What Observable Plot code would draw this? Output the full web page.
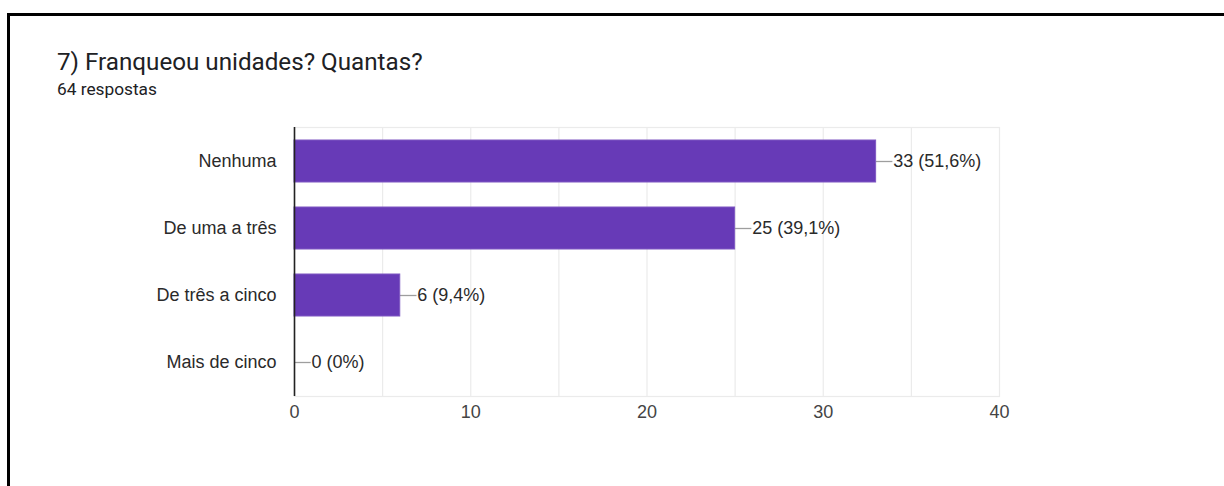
<!DOCTYPE html>
<html>
<head>
<meta charset="utf-8">
<script src="https://cdn.jsdelivr.net/npm/d3@7"></script>
<script src="https://cdn.jsdelivr.net/npm/@observablehq/plot@0.6"></script>
<style>
  html, body { margin: 0; padding: 0; background: #fff; }
  #wrap { position: relative; width: 1224px; height: 486px; overflow: hidden; background: #fff; }
  #wrap svg { position: absolute; left: 0; top: 0; }
  .bt { position: absolute; left: 7px; top: 13px; width: 1217px; height: 3px; background: #000; }
  .bl { position: absolute; left: 7px; top: 13px; width: 3px; height: 473px; background: #000; }
  #title { position: absolute; left: 57px; top: 50px; font-family: Roboto, sans-serif; font-size: 24.2px; line-height: 24px; color: #202124; white-space: nowrap; }
  #subtitle { position: absolute; left: 57px; top: 81px; font-family: Roboto, sans-serif; font-size: 17.3px; line-height: 17px; color: #202124; white-space: nowrap; }
</style>
</head>
<body>
<div id="wrap">
  <div class="bt"></div>
  <div class="bl"></div>
  <div id="title">7) Franqueou unidades? Quantas?</div>
  <div id="subtitle">64 respostas</div>
</div>
<script>
const categories = ["Nenhuma", "De uma a três", "De três a cinco", "Mais de cinco"];
const counts = [33, 25, 6, 0];
const percents = ["51,6%", "39,1%", "9,4%", "0%"];
const xTicks = [0, 10, 20, 30, 40];
const gridTicks = [5, 10, 15, 20, 25, 30, 35];

const data = categories.map((c, i) => ({category: c, value: counts[i], pct: percents[i]}));

const chart = Plot.plot({
  width: 1224,
  height: 486,
  marginLeft: 294,
  marginRight: 225,
  marginTop: 127,
  marginBottom: 90,
  style: {fontFamily: "'Liberation Sans', Arial, sans-serif", fontSize: "18px", background: "transparent", overflow: "visible"},
  x: {domain: [0, 40], ticks: xTicks, tickSize: 0, tickPadding: 9, label: null},
  y: {domain: categories, paddingInner: 0.38, paddingOuter: 0.19, tickSize: 0, tickPadding: 18, label: null},
  marks: [
    Plot.frame({stroke: "#ebebeb", strokeWidth: 1.2}),
    Plot.ruleX(gridTicks, {stroke: "#ebebeb", strokeWidth: 1.2}),
    Plot.ruleY(data, {y: "category", x1: "value", x2: d => d.value + 0.95, stroke: "#9e9e9e", strokeWidth: 1.3}),
    Plot.barX(data, {y: "category", x: "value", fill: "#673ab7", stroke: "#7e57c2", strokeWidth: 1}),
    Plot.ruleX([0], {stroke: "#222", strokeWidth: 1.6}),
    Plot.text(data, {y: "category", x: "value", text: d => `${d.value} (${d.pct})`, dx: 17, textAnchor: "start", fill: "#2a2a2a", fontSize: 18}),
    Plot.axisY({tickSize: 0, tickPadding: 18, fill: "#2a2a2a", fontSize: 18}),
    Plot.axisX({ticks: xTicks, tickSize: 0, tickPadding: 9, fill: "#444", fontSize: 18})
  ]
});
document.getElementById("wrap").insertBefore(chart, document.getElementById("wrap").firstChild);
</script>
</body>
</html>
